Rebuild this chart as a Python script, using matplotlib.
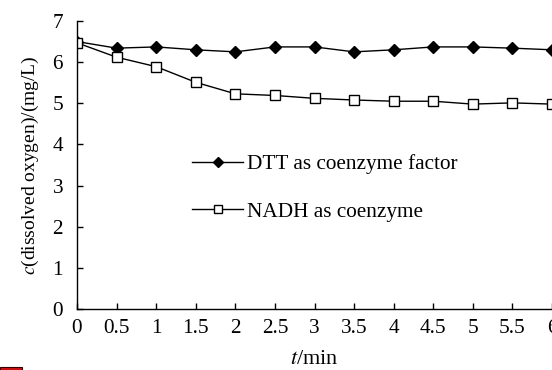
import matplotlib
matplotlib.use("Agg")
import matplotlib.pyplot as plt
from matplotlib.patches import Rectangle

plt.rcParams['font.family'] = ['Liberation Serif', 'DejaVu Serif']
plt.rcParams['mathtext.fontset'] = 'stix'
plt.rcParams['font.size'] = 15.3

# time (min)
t = [0, 0.5, 1, 1.5, 2, 2.5, 3, 3.5, 4, 4.5, 5, 5.5, 6]
# dissolved oxygen (mg/L)
dtt = [6.50, 6.34, 6.37, 6.30, 6.25, 6.37, 6.37, 6.25, 6.30, 6.37, 6.37, 6.34, 6.30]
nadh = [6.47, 6.12, 5.89, 5.51, 5.23, 5.19, 5.12, 5.08, 5.05, 5.05, 4.98, 5.01, 4.98]

xticks = [0, 0.5, 1, 1.5, 2, 2.5, 3, 3.5, 4, 4.5, 5, 5.5, 6]
xticklabels = ["0", "0.5", "1", "1.5", "2", "2.5", "3", "3.5", "4", "4.5", "5", "5.5", "6"]
yticks = [0, 1, 2, 3, 4, 5, 6, 7]

fig = plt.figure(figsize=(5.52, 3.70), dpi=100)
ax = fig.add_axes([77/552, 1 - 309/370, 475/552, 288/370])

ax.plot(t, dtt, color='black', lw=1, marker='D', ms=6, mfc='black', mec='black',
        label='DTT as coenzyme factor')
ax.plot(t, nadh, color='black', lw=1, marker='s', ms=7.5, mfc='white', mec='black',
        mew=1, label='NADH as coenzyme')

ax.set_xlim(0, 6)
ax.set_ylim(0, 7)
ax.set_xticks(xticks)
ax.set_xticklabels(xticklabels)
ax.set_yticks(yticks)
ax.tick_params(direction='in', length=4, width=1)
ax.tick_params(axis='x', pad=7)
ax.tick_params(axis='y', pad=10)
for s in ['top', 'right']:
    ax.spines[s].set_visible(False)
for s in ['left', 'bottom']:
    ax.spines[s].set_linewidth(1)

ax.set_xlabel('$t$/min', fontsize=16, labelpad=9)
ax.set_ylabel('$c$(dissolved oxygen)/(mg/L)', fontsize=14, labelpad=8)

ax.legend(loc='upper left', bbox_to_anchor=(0.225, 0.567), frameon=False,
          handlelength=2.4, handletextpad=0.15, labelspacing=1.3, markerscale=0.8,
          borderaxespad=0)

fig.patches.append(Rectangle((0, 0), 22/552, 3/370, transform=fig.transFigure,
                             facecolor='#d01010', edgecolor='#300000', lw=0.8))

fig.savefig('out.png', dpi=100)
